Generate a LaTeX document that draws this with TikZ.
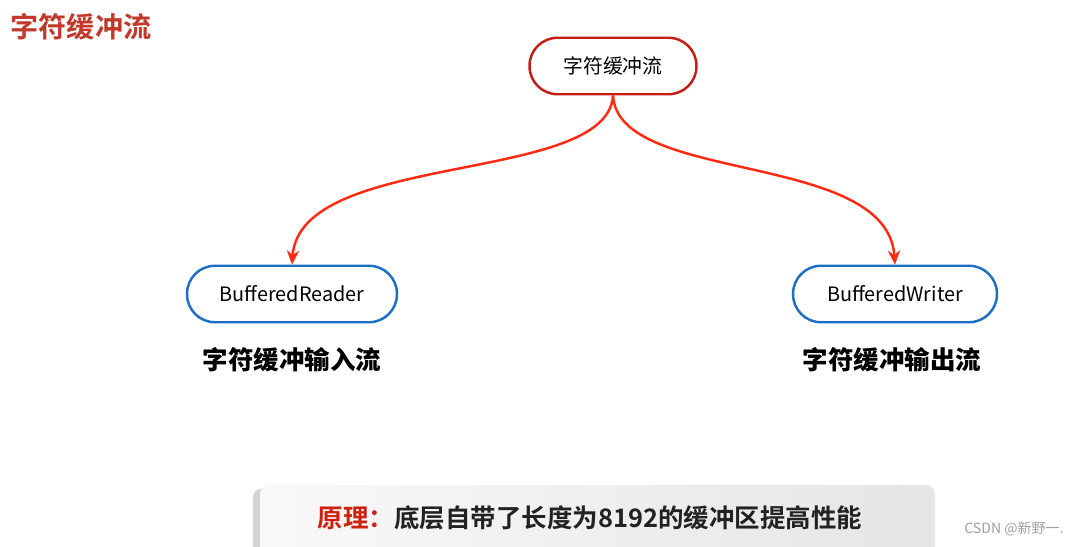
\documentclass[tikz,border=0pt]{standalone}
\usepackage{fontspec}
\usepackage{tikz}
\usetikzlibrary{arrows.meta,shadows}
\newfontfamily\cjk{Noto Sans CJK SC}[BoldFont={Noto Sans CJK SC Bold}]
\newfontfamily\cjkheavy{Noto Sans CJK SC Black}
\definecolor{titlered}{HTML}{C0392B}
\definecolor{notered}{HTML}{D0200F}
\definecolor{boxred}{HTML}{C21E14}
\definecolor{arrowred}{HTML}{FF2A12}
\definecolor{boxblue}{HTML}{1C6FC4}
\definecolor{textgray}{HTML}{222222}

\begin{document}
\begin{tikzpicture}[x=0.02cm,y=-0.02cm,
  pill/.style={draw,line width=1.4pt,rounded corners=0.56cm,minimum height=1.13cm,font=\cjk\fontsize{11.3}{13}\selectfont,fill=white},
  sub/.style={font=\cjkheavy\fontsize{14.5}{16}\selectfont},
  flow/.style={arrowred,line width=1.4pt,-{Stealth[length=8pt,width=7pt]}}]
 \useasboundingbox (0,0) rectangle (1085,547);
 \node[text=titlered,font=\cjk\bfseries\fontsize{16}{18}\selectfont] (title) at (81,27) {字符缓冲流};
 \node[pill,draw=boxred,minimum width=3.34cm] (root) at (613,66) {字符缓冲流};
 \node[pill,draw=boxblue,minimum width=4.2cm] (reader) at (292,294) {BufferedReader};
 \node[pill,draw=boxblue,minimum width=4.08cm] (writer) at (895,294) {BufferedWriter};
 \node[sub] (readerlbl) at (292,360) {字符缓冲输入流};
 \node[sub] (writerlbl) at (892,360) {字符缓冲输出流};
 % connectors
 \draw[flow] (root.south) .. controls (608,185) and (300,150) .. (reader.north);
 \draw[flow] (root.south) .. controls (618,185) and (887,150) .. (writer.north);
 % note at the bottom
 \shade[left color=gray!5,right color=gray!20,rounded corners=0.18cm,drop shadow={opacity=0.35,shadow xshift=-4pt,shadow yshift=-2pt}] (260,485) rectangle (935,560);
 \node[font=\cjk\bfseries\fontsize{14.5}{16}\selectfont,text=textgray] (note) at (590,518) {\textcolor{notered}{原理：}底层自带了长度为8192的缓冲区提高性能};
 \node[font=\cjk\fontsize{8}{9}\selectfont,text=gray!75] (mark) at (1014,529) {CSDN @新野一.};
\end{tikzpicture}
\end{document}
